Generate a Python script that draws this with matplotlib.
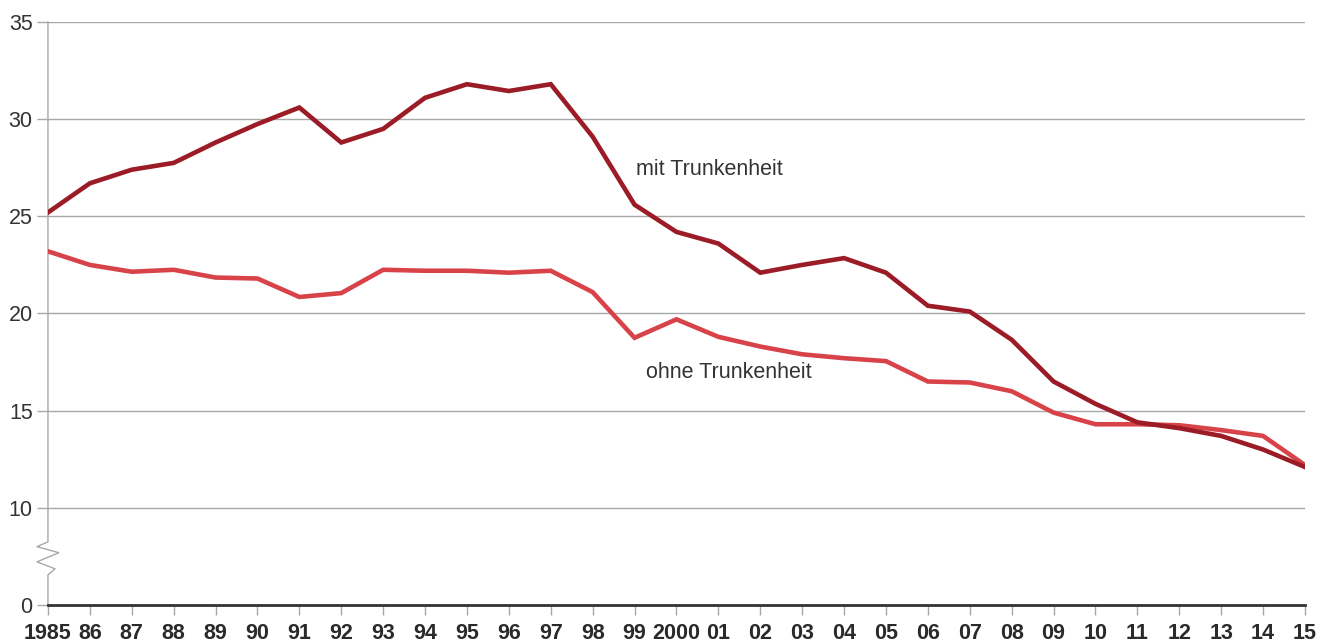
import matplotlib
matplotlib.use("Agg")
import matplotlib.pyplot as plt

# Jahre und Werte
jahre = list(range(1985, 2016))
jahr_labels = ["1985", "86", "87", "88", "89", "90", "91", "92", "93", "94", "95",
               "96", "97", "98", "99", "2000", "01", "02", "03", "04", "05", "06",
               "07", "08", "09", "10", "11", "12", "13", "14", "15"]

mit_trunkenheit = [25.2, 26.7, 27.4, 27.75, 28.8, 29.75, 30.6, 28.8, 29.5, 31.1, 31.8,
                   31.45, 31.8, 29.1, 25.6, 24.2, 23.6, 22.1, 22.5, 22.85, 22.1, 20.4,
                   20.1, 18.65, 16.5, 15.35, 14.4, 14.1, 13.7, 13.0, 12.1]

ohne_trunkenheit = [23.2, 22.5, 22.15, 22.25, 21.85, 21.8, 20.85, 21.05, 22.25, 22.2, 22.2,
                    22.1, 22.2, 21.1, 18.75, 19.7, 18.8, 18.3, 17.9, 17.7, 17.55, 16.5,
                    16.45, 16.0, 14.9, 14.3, 14.3, 14.25, 14.0, 13.7, 12.2]

# y-Achse mit Bruch: "0" sitzt an Position 5
y_pos = [5, 10, 15, 20, 25, 30, 35]
y_labels = ["0", "10", "15", "20", "25", "30", "35"]

dunkel = "#9b1c26"
hell = "#d8434a"
grau = "#a8a8a8"

fig = plt.figure(figsize=(13.32, 6.44), dpi=100)
ax = fig.add_axes([0.036, 0.0606, 0.9437, 0.9052])

for y in y_pos[1:]:
    ax.axhline(y, color=grau, lw=1, zorder=1)

ax.plot(jahre, ohne_trunkenheit, color=hell, lw=3.3, zorder=3, solid_joinstyle="miter")
ax.plot(jahre, mit_trunkenheit, color=dunkel, lw=3.3, zorder=4, solid_joinstyle="miter")

ax.set_xlim(1985, 2015)
ax.set_ylim(5, 35)

# linke Achse mit Zickzack-Bruch
ax.spines["left"].set_visible(False)
ax.spines["right"].set_visible(False)
ax.spines["top"].set_visible(False)
ax.spines["bottom"].set_color("#333333")
ax.spines["bottom"].set_linewidth(2)
ax.spines["bottom"].set_zorder(5)

zx = [1985, 1985, 1984.74, 1985.26, 1984.74, 1985.17, 1985, 1985]
zy = [35, 8.25, 8.0, 7.69, 7.22, 6.86, 6.55, 5]
ax.plot(zx, zy, color=grau, lw=1, clip_on=False, zorder=2)

ax.set_yticks(y_pos)
ax.set_yticklabels(y_labels, fontsize=15.5, color="#333333", family=["Liberation Sans", "DejaVu Sans"])
ax.tick_params(axis="y", length=8, color=grau, width=1, pad=3)

ax.set_xticks(jahre)
ax.set_xticklabels(jahr_labels, fontsize=15.5, fontweight="bold", color="#2a2a2a",
                   family=["Liberation Sans", "DejaVu Sans"])
ax.tick_params(axis="x", length=7, color=grau, width=1, pad=6)

ax.text(2000.78, 27.4, "mit Trunkenheit", ha="center", va="center", fontsize=15.5,
        color="#333333", family=["Liberation Sans", "DejaVu Sans"])
ax.text(2001.25, 16.95, "ohne Trunkenheit", ha="center", va="center", fontsize=15.5,
        color="#333333", family=["Liberation Sans", "DejaVu Sans"])

fig.savefig("out.png", dpi=100)
